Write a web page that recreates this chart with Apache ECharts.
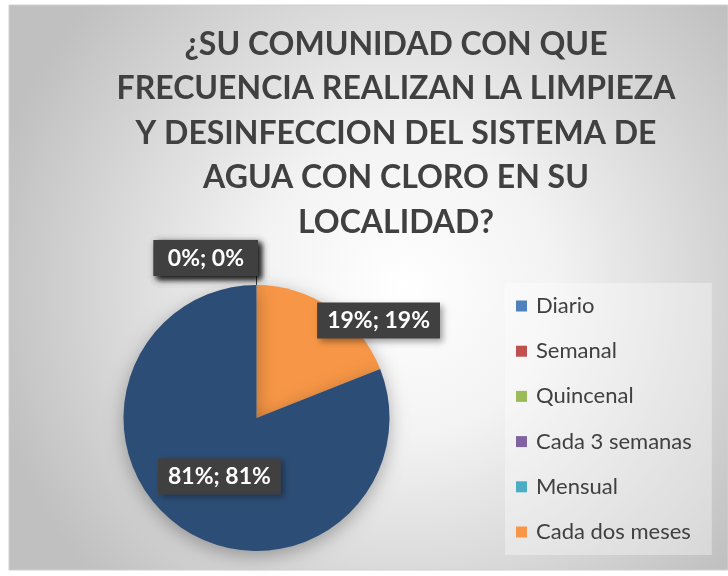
<!DOCTYPE html>
<html>
<head>
<meta charset="utf-8">
<script src="https://cdn.jsdelivr.net/npm/echarts@6/dist/echarts.min.js"></script>
<style>
html,body{margin:0;padding:0;background:#ffffff;}
#chart{width:728px;height:576px;}
</style>
</head>
<body>
<div id="chart"></div>
<script>
// ---- data ----
const categories = ['Diario', 'Semanal', 'Quincenal', 'Cada 3 semanas', 'Mensual', 'Cada dos meses', 'Otros'];
const values = [0, 0, 0, 0, 0, 19, 81];
const legendCategories = ['Diario', 'Semanal', 'Quincenal', 'Cada 3 semanas', 'Mensual', 'Cada dos meses'];
const titleLines = ['¿SU COMUNIDAD CON QUE', 'FRECUENCIA REALIZAN LA LIMPIEZA', 'Y DESINFECCION DEL SISTEMA DE', 'AGUA CON CLORO EN SU', 'LOCALIDAD?'];

// ---- styles ----
const colors = ['#4F81BD', '#C0504D', '#9BBB59', '#8064A2', '#4BACC6', '#F79646', '#2C4D75'];
const labelOffsets = { 'Cada dos meses': [83, -40], 'Otros': [2, 1] };

const chart = echarts.init(document.getElementById('chart'), null, { renderer: 'canvas' });

const data = categories.map((name, i) => {
  const item = { name: name, value: values[i], itemStyle: { color: colors[i] } };
  if (values[i] === 0) {
    item.label = { position: 'outside', padding: [7, 14, 6, 14] };
    item.labelLine = { show: true, length: 8, length2: 0, lineStyle: { color: '#404040', width: 1 } };
  } else {
    item.label = { position: 'inside', offset: labelOffsets[name] || [0, 0] };
    item.labelLine = { show: false };
  }
  return item;
});

const option = {
  animation: false,
  graphic: [{
    type: 'rect',
    z: -10,
    silent: true,
    shape: { x: 9, y: 5, width: 719, height: 565 },
    style: {
      fill: new echarts.graphic.RadialGradient(0.55, 0.5, 0.75, [
        { offset: 0, color: '#ffffff' },
        { offset: 0.35, color: '#f3f3f3' },
        { offset: 1, color: '#c0c0c0' }
      ]),
      stroke: '#d0d0d0',
      lineWidth: 1
    }
  }],
  title: {
    text: titleLines.join('\n'),
    left: 391,
    top: 17,
    textAlign: 'center',
    textStyle: {
      fontFamily: 'Lato',
      fontWeight: 'bold',
      fontSize: 32,
      lineHeight: 44.5,
      color: '#404040'
    }
  },
  legend: {
    data: legendCategories,
    orient: 'vertical',
    left: 505,
    top: 283,
    padding: [12, 20, 12, 11],
    backgroundColor: 'rgba(255,255,255,0.35)',
    itemWidth: 11,
    itemHeight: 11,
    itemGap: 23.2,
    icon: 'rect',
    textStyle: {
      fontFamily: 'Lato',
      fontSize: 22,
      lineHeight: 20,
      color: '#404040',
      padding: [0, 0, 0, 4]
    }
  },
  series: [{
    type: 'pie',
    center: [256.5, 418],
    radius: [0, 133],
    startAngle: 90,
    clockwise: true,
    avoidLabelOverlap: false,
    data: data,
    itemStyle: {
      shadowBlur: 18,
      shadowColor: 'rgba(0,0,0,0.3)',
      shadowOffsetY: 5
    },
    label: {
      show: true,
      formatter: function (p) { return p.value + '%; ' + Math.round(p.percent) + '%'; },
      fontFamily: 'Lato',
      fontWeight: 'bold',
      fontSize: 23,
      color: '#ffffff',
      backgroundColor: '#404040',
      padding: [7, 10, 6, 10],
      shadowBlur: 6,
      shadowOffsetX: 3,
      shadowOffsetY: 3,
      shadowColor: 'rgba(0,0,0,0.35)'
    },
    labelLayout: function (params) {
      if (params.dataIndex != null && values[params.dataIndex] === 0 && params.labelLinePoints) {
        const p0 = params.labelLinePoints[0];
        return {
          x: p0[0] + 1.5,
          y: p0[1] - 9,
          align: 'right',
          verticalAlign: 'bottom',
          labelLinePoints: [[p0[0], p0[1]], [p0[0], p0[1] - 9]]
        };
      }
      return {};
    }
  }]
};
chart.setOption(option);
</script>
</body>
</html>
